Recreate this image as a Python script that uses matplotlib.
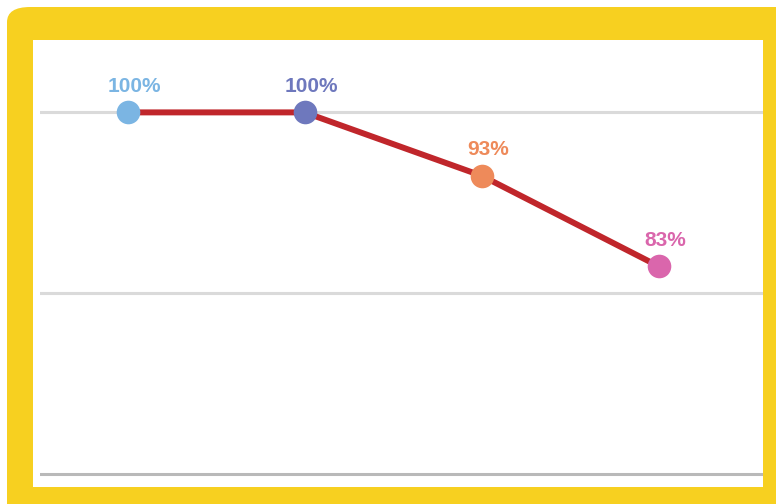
import matplotlib
matplotlib.use('Agg')
import matplotlib.pyplot as plt
from matplotlib.patches import FancyBboxPatch, Rectangle

# retention by stage
stages = ['Stage 1', 'Stage 2', 'Stage 3', 'Stage 4']
values = [100, 100, 93, 83]
point_colors = ['#7BB5E3', '#6E78BD', '#EE8A5A', '#DA66AC']
grid_levels = [100, 80, 60]

W, H = 776, 504
fig = plt.figure(figsize=(W / 100, H / 100), dpi=100)
fig.patch.set_facecolor('white')

# yellow frame with a rounded corner, white panel inside
frame = FancyBboxPatch((7 / W, -0.5), 1.2, 1.5 - 7 / H,
                       boxstyle='round,pad=0,rounding_size=0.03',
                       transform=fig.transFigure, facecolor='#F7D020',
                       edgecolor='none', zorder=0)
fig.patches.append(frame)
panel = Rectangle((33 / W, 1 - 487 / H), (763 - 33) / W, (487 - 40) / H,
                  transform=fig.transFigure, facecolor='white',
                  edgecolor='none', zorder=1)
fig.patches.append(panel)

ax = fig.add_axes([40 / W, 1 - 487 / H, (763 - 40) / W, (487 - 40) / H])
ax.set_facecolor('none')
ax.set_zorder(2)

x = list(range(len(values)))
ax.set_xlim(-0.495, 3.59)
ax.set_ylim(58.6, 108.0)

for lvl in grid_levels:
    c = '#B9B9B9' if lvl == min(grid_levels) else '#DADADA'
    ax.axhline(lvl, color=c, lw=2.2, zorder=1)

ax.plot(x, values, color='#C0262B', lw=4.3, solid_capstyle='round', zorder=2)
for xi, v, c in zip(x, values, point_colors):
    ax.plot(xi, v, 'o', ms=17, color=c, mec='none', zorder=3)
    ax.annotate(f'{v}%', (xi, v), xytext=(5, 12), textcoords='offset points',
                ha='center', va='bottom', color=c, fontsize=15,
                fontweight='bold', family='Liberation Sans', zorder=4)

ax.set_xticks([])
ax.set_yticks([])
for s in ax.spines.values():
    s.set_visible(False)

fig.savefig('out.png', dpi=100)
